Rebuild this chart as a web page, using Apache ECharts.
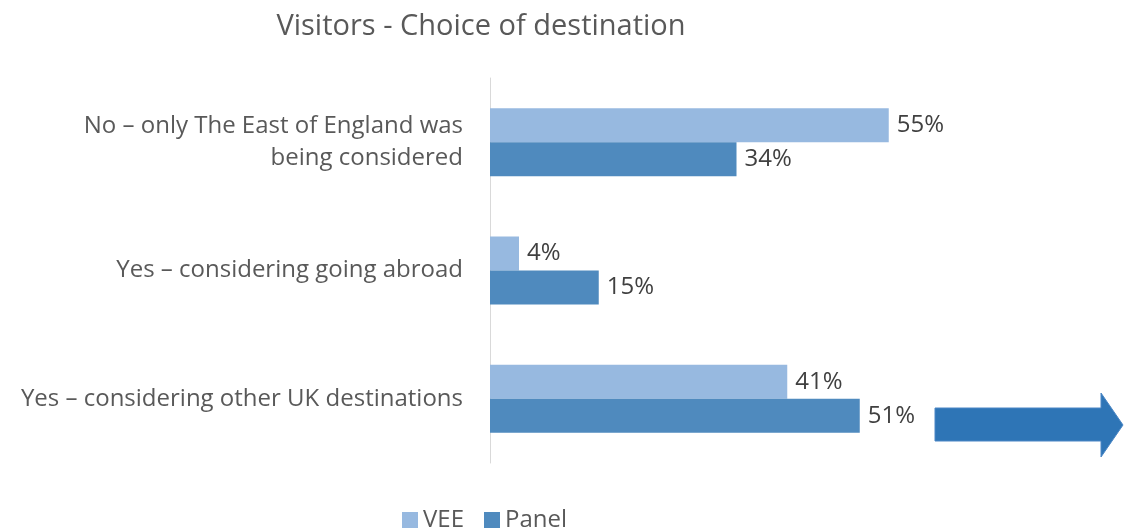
<!DOCTYPE html>
<html>
<head>
<meta charset="utf-8">
<script src="https://cdn.jsdelivr.net/npm/echarts@6/dist/echarts.min.js"></script>
<style>
  html, body { margin: 0; padding: 0; background: #fff; }
  #chart { width: 1124px; height: 528px; }
</style>
</head>
<body>
<div id="chart"></div>
<script>
// Survey answers, listed top to bottom
const categories = [
  'No – only The East of England was\nbeing considered',
  'Yes – considering going abroad',
  'Yes – considering other UK destinations'
];
const seriesNames = ['VEE', 'Panel'];
const veeValues = [55, 4, 41];
const panelValues = [34, 15, 51];

const FONT = '"Open Sans", "Noto Sans", sans-serif';

const chart = echarts.init(document.getElementById('chart'), null, { renderer: 'canvas' });

const labelStyle = {
  show: true,
  position: 'right',
  distance: 8,
  formatter: p => p.value + '%',
  color: '#404040',
  fontSize: 24,
  fontFamily: FONT,
  padding: [8, 0, 0, 0]
};

chart.setOption({
  animation: false,
  title: {
    text: 'Visitors - Choice of destination',
    left: 476,
    textAlign: 'center',
    top: 7,
    textStyle: { color: '#595959', fontSize: 29, fontWeight: 'normal', fontFamily: FONT }
  },
  legend: {
    data: seriesNames,
    left: 397,
    top: 503,
    itemWidth: 16,
    itemHeight: 16,
    itemGap: 20,
    icon: 'rect',
    textStyle: { color: '#595959', fontSize: 24, fontFamily: FONT }
  },
  grid: { left: 490, top: 78, width: 435, height: 385, containLabel: false },
  xAxis: {
    type: 'value',
    min: 0,
    max: 60,
    show: false
  },
  yAxis: {
    type: 'category',
    data: categories,
    inverse: true,
    axisLine: { show: true, lineStyle: { color: '#d9d9d9', width: 1 } },
    axisTick: { show: false },
    axisLabel: {
      color: '#595959',
      fontSize: 24,
      fontFamily: FONT,
      margin: 27,
      align: 'right',
      lineHeight: 32,
      padding: [12, 0, 0, 0]
    }
  },
  series: [
    {
      name: seriesNames[0],
      type: 'bar',
      data: veeValues,
      barWidth: 34,
      barGap: '0%',
      itemStyle: { color: '#97b9e0' },
      label: labelStyle
    },
    {
      name: seriesNames[1],
      type: 'bar',
      data: panelValues,
      barWidth: 34,
      barGap: '0%',
      itemStyle: { color: '#4f8abe' },
      label: labelStyle
    }
  ],
  graphic: [
    {
      type: 'polygon',
      shape: {
        points: [[935, 408], [1101, 408], [1101, 393], [1123, 425], [1101, 457], [1101, 441], [935, 441]]
      },
      style: { fill: '#2e75b6', stroke: '#4a86c5', lineWidth: 1 }
    }
  ]
});
</script>
</body>
</html>
